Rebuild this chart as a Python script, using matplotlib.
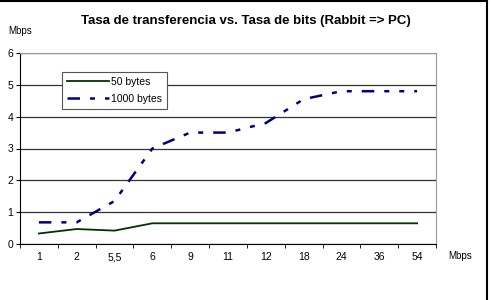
import matplotlib.pyplot as plt
from matplotlib.lines import Line2D

plt.rcParams['font.family'] = ['Liberation Sans', 'DejaVu Sans']

# data
rates = ["1", "2", "5,5", "6", "9", "11", "12", "18", "24", "36", "54"]
bytes_50 = [0.33, 0.47, 0.42, 0.65, 0.65, 0.65, 0.65, 0.65, 0.65, 0.65, 0.65]
bytes_1000 = [0.68, 0.68, 1.35, 3.0, 3.5, 3.5, 3.8, 4.55, 4.8, 4.8, 4.8]

fig = plt.figure(figsize=(4.91, 3.0), dpi=100)
ax = fig.add_axes([0.0407, 0.1867, 0.8473, 0.6366])

x = list(range(len(rates)))
ax.plot(x, bytes_50, color='#003300', lw=1.3, label='50 bytes', zorder=3)
ax.plot(x, bytes_1000, color='#000080', lw=1.8, label='1000 bytes', zorder=3,
        dashes=(5, 4, 2, 4, 2, 4))

ax.set_xlim(-0.5, len(rates) - 0.5)
ax.set_ylim(0, 6)
ax.set_yticks(range(7))
ax.set_xticks(x)
ax.set_xticklabels(rates)
ax.set_xticks([i - 0.5 for i in range(len(rates) + 1)], minor=True)
ax.tick_params(axis='x', which='major', length=0, labelsize=7.5, pad=6)
ax.tick_params(axis='x', which='minor', length=3, direction='out')
ax.tick_params(axis='y', labelsize=7.5, length=3, pad=2)
ax.yaxis.grid(True, color='#333333', lw=0.9)
ax.set_axisbelow(True)

for s in ['top', 'right']:
    ax.spines[s].set_color('#999999')
for s in ['left', 'bottom']:
    ax.spines[s].set_color('black')

leg = ax.legend(loc='upper left', bbox_to_anchor=(0.088, 0.93), fontsize=7.5,
                frameon=True, fancybox=False, framealpha=1, edgecolor='#555555',
                handlelength=4, borderpad=0.5, labelspacing=0.7, handletextpad=0.2)
leg.get_frame().set_linewidth(0.8)

fig.text(0.5, 0.93, "Tasa de transferencia vs. Tasa de bits (Rabbit => PC)",
         ha='center', va='center', fontsize=9.5, fontweight='bold')
fig.text(0.04, 0.895, "Mbps", ha='center', va='center', fontsize=7)
fig.text(0.937, 0.147, "Mbps", ha='center', va='center', fontsize=7)

# outer frame
fig.add_artist(Line2D([0, 0.991], [0.997, 0.997], color='black', lw=1.5, transform=fig.transFigure))
fig.add_artist(Line2D([0.991, 0.991], [0, 0.997], color='black', lw=1.5, transform=fig.transFigure))

fig.savefig('out.png', dpi=100)
